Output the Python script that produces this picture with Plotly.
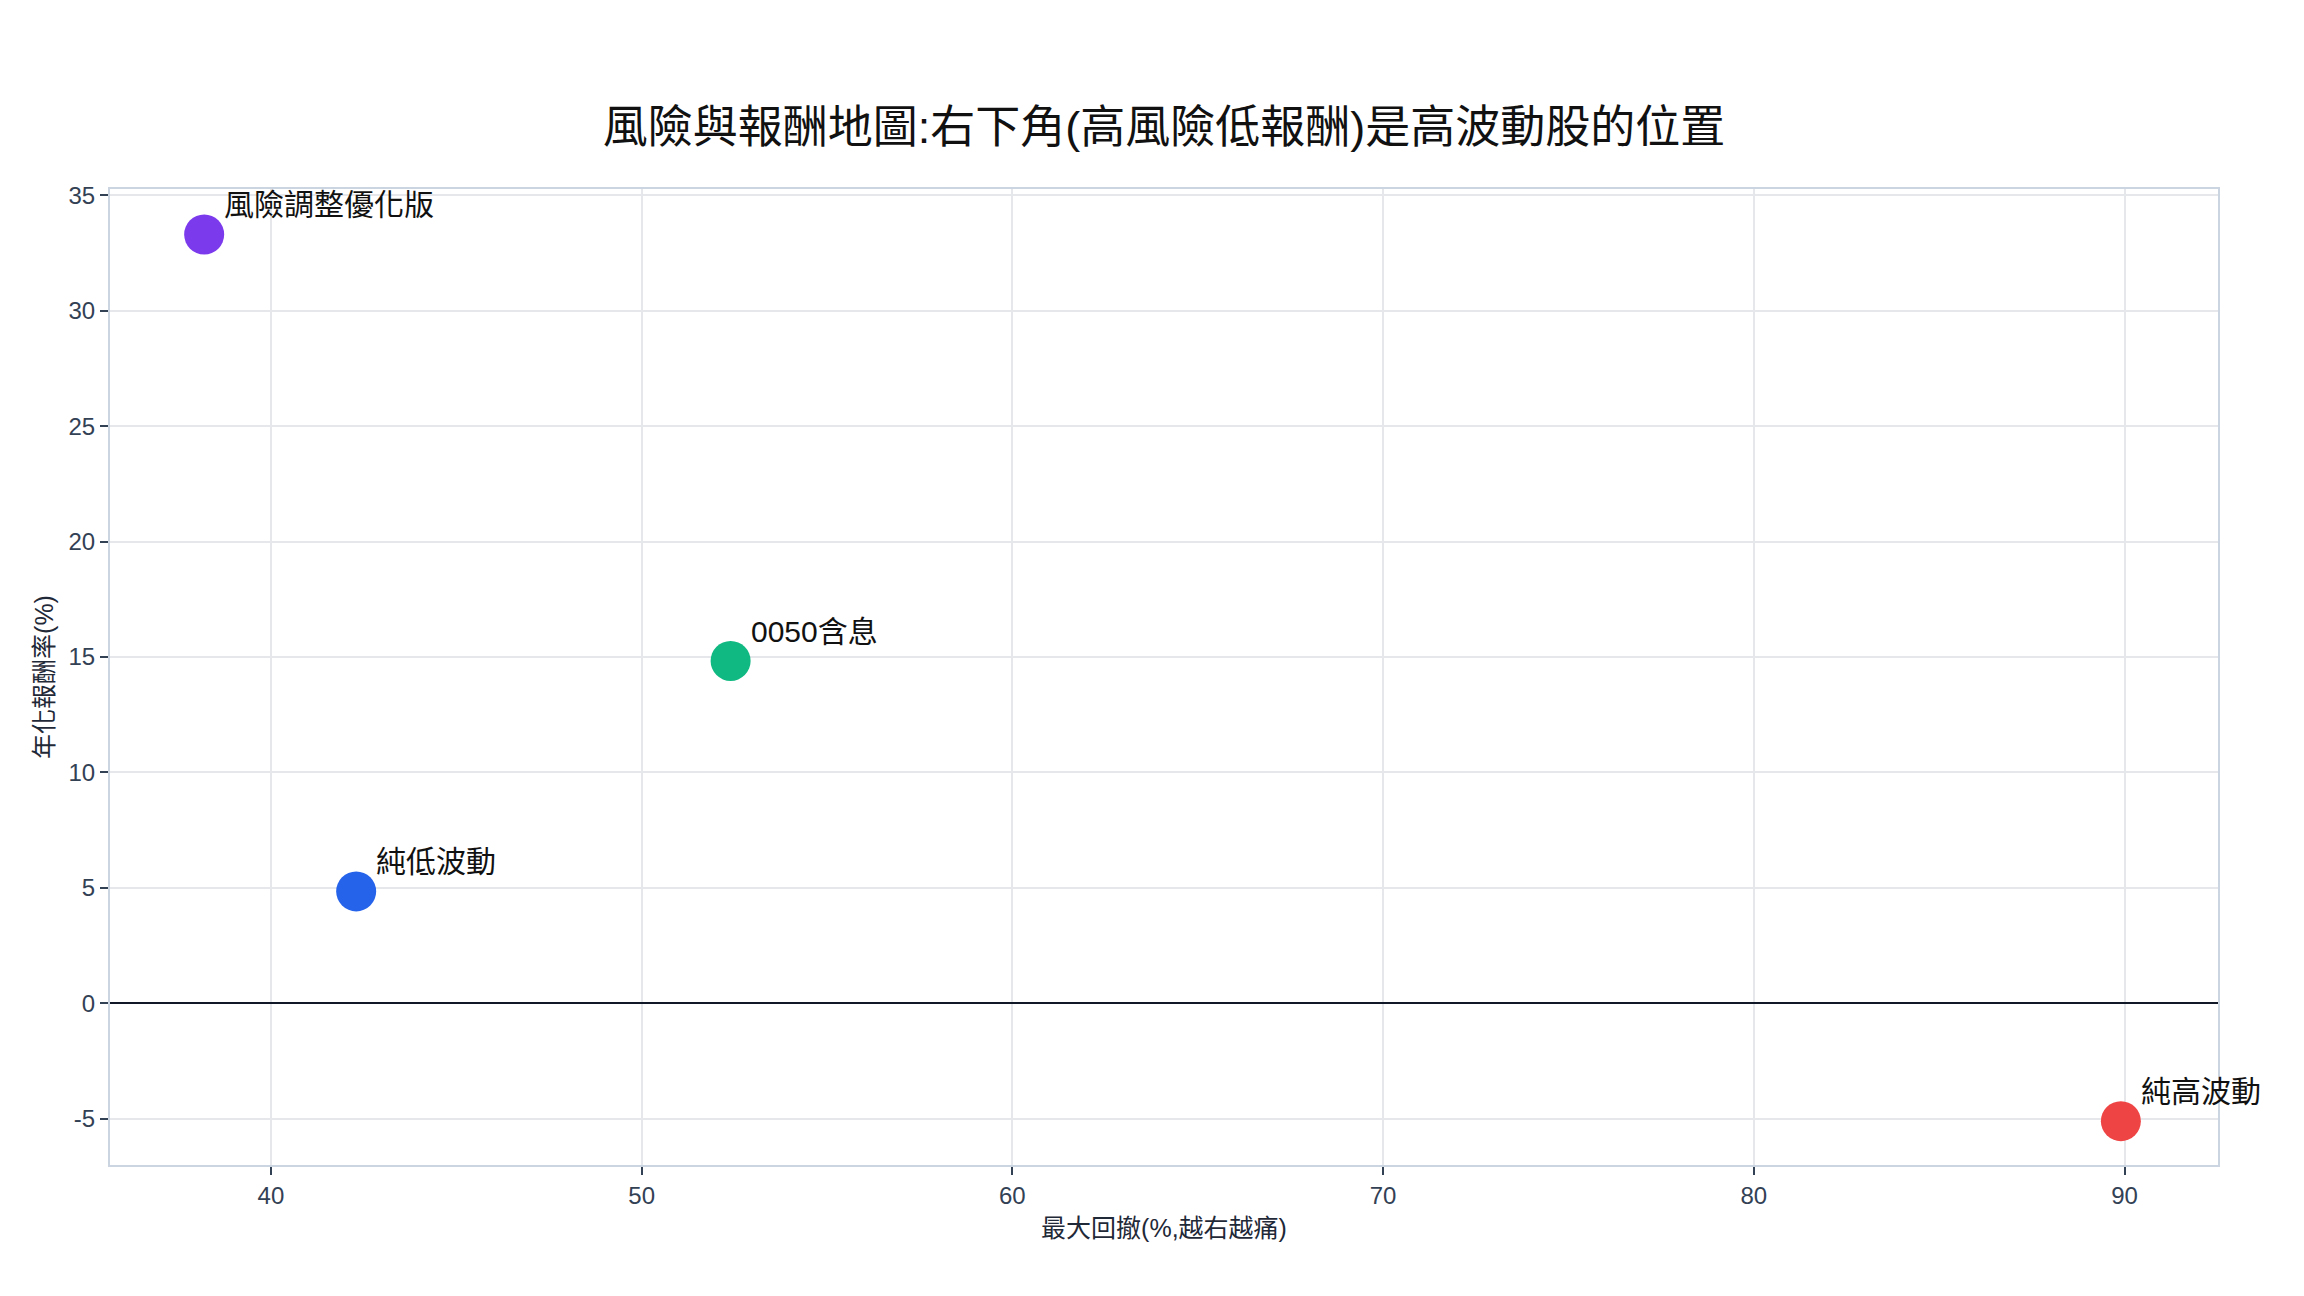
# 風險與報酬地圖
import plotly.graph_objects as go

# Data
strategies = ["風險調整優化版", "純低波動", "0050含息", "純高波動"]
max_drawdown = [38.2, 42.3, 52.4, 89.9]
annual_return = [33.3, 4.85, 14.83, -5.1]
colors = ["#7c3aed", "#2563eb", "#10b981", "#ef4444"]

y_ticks = [-5, 0, 5, 10, 15, 20, 25, 30, 35]
y_tick_labels = ["-5", "0", "5", "10", "15", "20", "25", "30", "35"]

FONT = "Liberation Sans, Arial, Noto Sans CJK TC, sans-serif"

fig = go.Figure()
fig.add_trace(go.Scatter(
    x=max_drawdown,
    y=annual_return,
    mode="markers",
    marker=dict(size=40, color=colors),
    cliponaxis=False,
    showlegend=False,
))

# labels next to each point
for name, xv, yv in zip(strategies, max_drawdown, annual_return):
    fig.add_annotation(
        x=xv, y=yv, text=name, showarrow=False,
        xanchor="left", yanchor="bottom", xshift=18, yshift=11,
        font=dict(size=30, color="#111111", family=FONT),
    )

fig.update_layout(
    width=2304,
    height=1296,
    paper_bgcolor="white",
    plot_bgcolor="white",
    font=dict(family=FONT, color="#334155"),
    margin=dict(l=102, r=94, t=181, b=139),
    title=dict(
        text="風險與報酬地圖:右下角(高風險低報酬)是高波動股的位置",
        x=0.5, xref="paper", xanchor="center",
        y=1 - 119 / 1296, yref="container", yanchor="middle",
        font=dict(size=45, color="#111111", family=FONT),
    ),
    xaxis=dict(
        title=dict(text="最大回撤(%,越右越痛)", font=dict(size=25, color="#1f2937"), standoff=12),
        range=[35.66, 92.52],
        dtick=10,
        showgrid=True, gridcolor="#e5e7eb", gridwidth=2,
        showline=True, linecolor="#cbd5e1", linewidth=2, mirror=True,
        ticks="outside", ticklen=8, tickwidth=2, tickcolor="#334155",
        tickfont=dict(size=24, color="#334155"),
        zeroline=False,
    ),
    yaxis=dict(
        title=dict(text="年化報酬率(%)", font=dict(size=25, color="#1f2937"), standoff=8),
        range=[-7.0, 35.27],
        tickvals=y_ticks, ticktext=y_tick_labels,
        showgrid=True, gridcolor="#e5e7eb", gridwidth=2,
        showline=True, linecolor="#cbd5e1", linewidth=2, mirror=True,
        ticks="outside", ticklen=8, tickwidth=2, tickcolor="#334155",
        tickfont=dict(size=24, color="#334155"),
        zeroline=True, zerolinecolor="#111827", zerolinewidth=2,
    ),
)

fig.write_html("out.html")
